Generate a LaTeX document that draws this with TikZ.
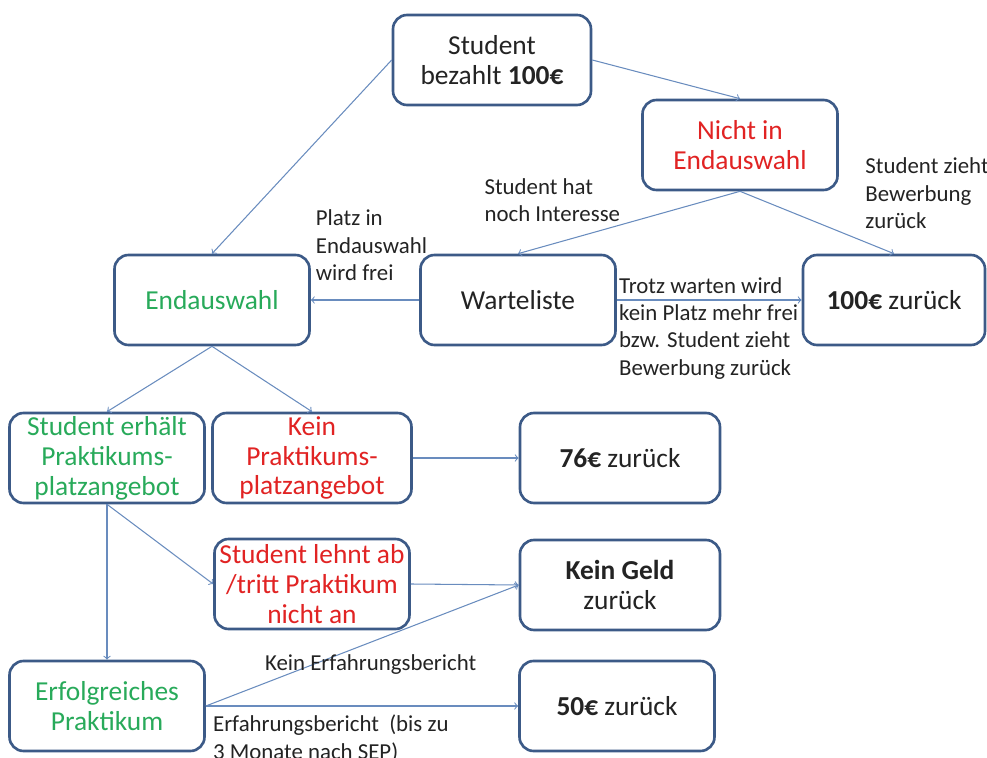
\documentclass[tikz,border=0pt]{standalone}
\usepackage{fontspec}
\setmainfont{Carlito}
\usetikzlibrary{positioning, arrows}

\definecolor{boxline}{RGB}{60,90,135}
\definecolor{arrowline}{RGB}{105,140,190}
\definecolor{okgreen}{RGB}{40,170,90}
\definecolor{nored}{RGB}{225,35,35}
\definecolor{txt}{RGB}{35,35,35}

\tikzset{
  box/.style={draw=boxline, line width=1.5pt, rounded corners=8pt, fill=white,
    minimum width=3.9cm, minimum height=1.8cm, inner sep=0pt, align=center,
    text=txt, font=\fontsize{15.6}{17}\selectfont},
  lbl/.style={text=txt, align=left, inner sep=1pt, font=\fontsize{13}{15.6}\selectfont},
  flow/.style={->, arrowline, line width=0.6pt}
}

\begin{document}
\begin{tikzpicture}[node distance=3cm, on grid]
      \useasboundingbox (-4.24,6.0) rectangle (15.5,-9.16);
      \node[box, text=okgreen] (endaus) {Endauswahl};
      \node[box] (warte) [right=6.12cm of endaus] {Warteliste};
      \node[box, minimum width=3.64cm] (r100) [right=7.52cm of warte] {\textbf{100€} zurück};
      \node[box, minimum width=3.96cm] (pay) [above right=4.8cm and 5.6cm of endaus] {Student\\bezahlt \textbf{100€}};
      \node[box, text=nored] (nicht) [below right=1.7cm and 4.96cm of pay] {Nicht in\\Endauswahl};
      \node[box, text=okgreen] (angebot) [below left=3.16cm and 2.1cm of endaus] {Student erhält\\Praktikums-\\platzangebot};
      \node[box, text=nored, minimum width=3.98cm] (keinang) [right=4.1cm of angebot] {Kein\\Praktikums-\\platzangebot};
      \node[box, minimum width=4cm] (r76) [right=6.16cm of keinang] {\textbf{76€} zurück};
      \node[box, text=nored] (ablehnt) [below=2.52cm of keinang] {Student lehnt ab\\/tritt Praktikum\\nicht an};
      \node[box, minimum width=4cm] (r0) [below=2.54cm of r76] {\textbf{Kein Geld}\\zurück};
      \node[box, text=okgreen] (erfolg) [below=4.96cm of angebot] {Erfolgreiches\\Praktikum};
      \node[box] (r50) [right=10.2cm of erfolg] {\textbf{50€} zurück};
      \path[flow]
      (pay.west) edge (endaus.north)
      (pay.east) edge (nicht.north)
      (nicht.south) edge node[lbl, pos=0.53, anchor=south east] (l_interesse) {Student hat\\noch Interesse} (warte.north)
                    edge node[lbl, pos=0.8, anchor=south west, yshift=2mm] (l_zurueck) {Student zieht\\Bewerbung\\zurück} (r100.north)
      (warte.west) edge node[lbl, pos=0.44, anchor=south, yshift=3.4mm] (l_frei) {Platz in\\Endauswahl\\wird frei} (endaus.east)
      (warte.east) edge node[lbl, pos=0, anchor=north west, yshift=5mm] (l_warten) {Trotz warten wird\\kein Platz mehr frei\\bzw. Student zieht\\Bewerbung zurück} (r100.west)
      (endaus.south) edge (angebot.north)
                     edge (keinang.north)
      (keinang.east) edge (r76.west)
      (angebot.south) edge (erfolg.north)
                      edge (ablehnt.west)
      (ablehnt.east) edge (r0.west)
      (erfolg.east) edge node[lbl, pos=0.527, yshift=-4.4mm] (l_kein) {Kein Erfahrungsbericht} (r0.west)
                    edge node[lbl, pos=0, anchor=north west, xshift=1mm, yshift=-1.4mm] (l_bericht) {Erfahrungsbericht \ (bis zu\\3 Monate nach SEP)} (r50.west);
    \end{tikzpicture}
\end{document}
